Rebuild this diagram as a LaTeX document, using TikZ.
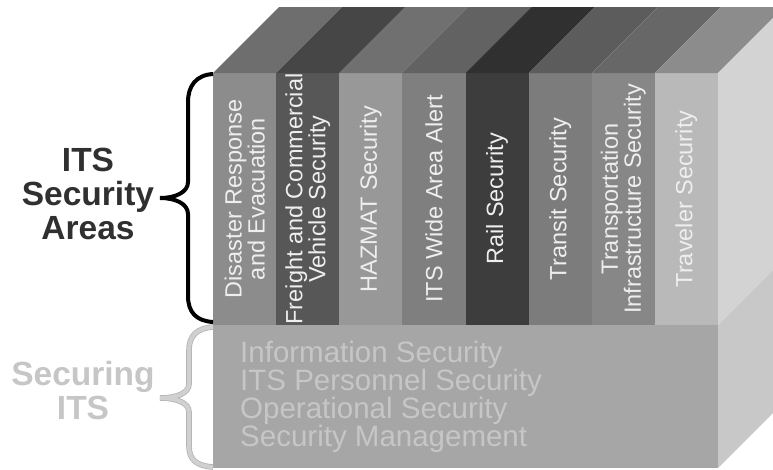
\documentclass[tikz,border=0pt]{standalone}
\usepackage{fontspec}
\setmainfont{Liberation Sans}
\definecolor{fA}{HTML}{8C8C8C}\definecolor{tA}{HTML}{6E6E6E}
\definecolor{fB}{HTML}{575757}\definecolor{tB}{HTML}{464646}
\definecolor{fC}{HTML}{989898}\definecolor{tC}{HTML}{707070}
\definecolor{fD}{HTML}{7F7F7F}\definecolor{tD}{HTML}{626262}
\definecolor{fE}{HTML}{3D3D3D}\definecolor{tE}{HTML}{303030}
\definecolor{fF}{HTML}{7C7C7C}\definecolor{tF}{HTML}{5C5C5C}
\definecolor{fG}{HTML}{878787}\definecolor{tG}{HTML}{676767}
\definecolor{fH}{HTML}{B9B9B9}\definecolor{tH}{HTML}{8C8C8C}
\definecolor{sideup}{HTML}{D3D3D3}
\definecolor{sidelow}{HTML}{C8C8C8}
\definecolor{lowfront}{HTML}{A6A6A6}
\definecolor{lowtxt}{HTML}{C6C6C6}
\definecolor{vtext}{HTML}{EEEEEE}
\definecolor{darklab}{HTML}{303030}
\definecolor{lightlab}{HTML}{C6C6C6}
\definecolor{braceedge}{HTML}{B4B4B4}
\definecolor{bracefill}{HTML}{D0D0D0}
\begin{document}
\begin{tikzpicture}[x=1pt,y=-1pt,
  coltext/.style={rotate=90, text=vtext, font=\fontsize{23.5}{23}\selectfont, align=center, inner sep=0pt},
  lowtext/.style={anchor=base west, text=lowtxt, font=\fontsize{29.5}{29.5}\selectfont, inner sep=0pt},
  bigtext/.style={font=\fontsize{33.5}{34}\selectfont\bfseries, align=center, inner sep=0pt},
  blackbrace/.style={draw=black, line width=4pt},
  graybrace/.style={draw=braceedge, line width=0.8pt, double=bracefill, double distance=4pt}]
\useasboundingbox (0,0) rectangle (773,469);
\begin{scope}
\clip (0,0) rectangle (773,469);
% columns: front and top faces
\foreach \i/\f/\t in {0/fA/tA,1/fB/tB,2/fC/tC,3/fD/tD,4/fE/tE,5/fF/tF,6/fG/tG,7/fH/tH}{
  \pgfmathsetmacro{\xa}{213+\i*63.125}
  \pgfmathsetmacro{\xb}{213+(\i+1)*63.125}
  \fill[\f] (\xa,73) rectangle (\xb,325);
  \fill[\t] (\xa,73) -- (\xa+66,7) -- (\xb+66,7) -- (\xb,73) -- cycle;
}
% right faces
\fill[sideup] (718,73) -- (784,7) -- (784,259) -- (718,325) -- cycle;
\fill[sidelow] (718,325) -- (784,259) -- (784,402) -- (718,468) -- cycle;
% lower box front
\fill[lowfront] (213,325) rectangle (718,468);
\end{scope}
% column labels
\node[coltext] (dis) at (244.6,199) {Disaster Response\\and Evacuation};
\node[coltext] (fre) at (307.7,199) {Freight and Commercial\\Vehicle Security};
\node[coltext] (haz) at (370.8,199) {HAZMAT Security};
\node[coltext] (wide) at (434.0,199) {ITS Wide Area Alert};
\node[coltext] (rail) at (497.1,199) {Rail Security};
\node[coltext] (tra) at (560.2,199) {Transit Security};
\node[coltext] (inf) at (623.3,199) {Transportation\\Infrastructure Security};
\node[coltext] (trv) at (686.4,199) {Traveler Security};
% lower box text
\node[lowtext] (l1) at (240,362) {Information Security};
\node[lowtext] (l2) at (240,390) {ITS Personnel Security};
\node[lowtext] (l3) at (240,418) {Operational Security};
\node[lowtext] (l4) at (240,446) {Security Management};
% left labels
\node[bigtext, text=darklab] (areas) at (88,194) {ITS\\Security\\Areas};
\node[bigtext, text=lightlab] (securing) at (83,391) {Securing\\ITS};
% braces
\draw[blackbrace] (213,74) .. controls (196,75) and (188,86) .. (188,102) -- (188,182)
  .. controls (188,192) and (176,198) .. (160,198)
  .. controls (176,198) and (188,204) .. (188,214) -- (188,296)
  .. controls (188,312) and (196,321) .. (213,322);
\draw[graybrace] (213,327) .. controls (197,328) and (189,336) .. (189,350) -- (189,384)
  .. controls (189,393) and (177,398) .. (160,398)
  .. controls (177,398) and (189,403) .. (189,412) -- (189,446)
  .. controls (189,460) and (197,466) .. (213,467);
\end{tikzpicture}
\end{document}
